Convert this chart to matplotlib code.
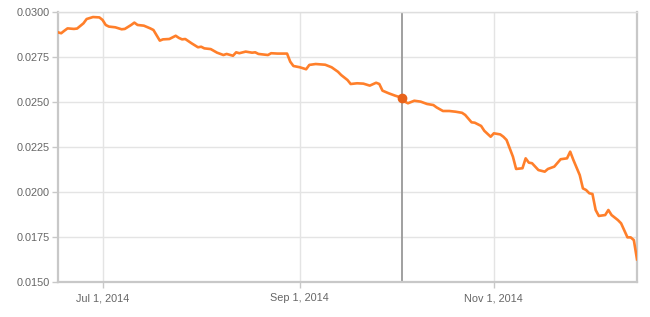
import matplotlib
matplotlib.use('Agg')
import matplotlib.pyplot as plt
import matplotlib.dates as mdates
import numpy as np

dates = ['2014-06-17', '2014-06-18', '2014-06-19', '2014-06-20', '2014-06-22', '2014-06-23',
         '2014-06-25', '2014-06-26', '2014-06-28', '2014-06-30', '2014-07-01', '2014-07-02',
         '2014-07-03', '2014-07-05', '2014-07-07', '2014-07-08', '2014-07-10', '2014-07-11',
         '2014-07-12', '2014-07-14', '2014-07-16', '2014-07-17', '2014-07-19', '2014-07-20',
         '2014-07-22', '2014-07-24', '2014-07-25', '2014-07-26', '2014-07-27', '2014-07-29',
         '2014-07-31', '2014-08-01', '2014-08-02', '2014-08-04', '2014-08-06', '2014-08-08',
         '2014-08-09', '2014-08-11', '2014-08-12', '2014-08-13', '2014-08-15', '2014-08-17',
         '2014-08-18', '2014-08-19', '2014-08-22', '2014-08-23', '2014-08-25', '2014-08-28',
         '2014-08-29', '2014-08-30', '2014-09-01', '2014-09-03', '2014-09-04', '2014-09-06',
         '2014-09-09', '2014-09-11', '2014-09-13', '2014-09-14', '2014-09-16', '2014-09-17',
         '2014-09-19', '2014-09-21', '2014-09-23', '2014-09-25', '2014-09-26', '2014-09-27',
         '2014-09-29', '2014-10-01', '2014-10-03', '2014-10-04', '2014-10-05', '2014-10-07',
         '2014-10-09', '2014-10-11', '2014-10-13', '2014-10-14', '2014-10-16', '2014-10-18',
         '2014-10-20', '2014-10-22', '2014-10-23', '2014-10-25', '2014-10-26', '2014-10-28',
         '2014-10-29', '2014-10-31', '2014-11-01', '2014-11-03', '2014-11-04', '2014-11-05',
         '2014-11-07', '2014-11-08', '2014-11-10', '2014-11-11', '2014-11-12', '2014-11-13',
         '2014-11-15', '2014-11-17', '2014-11-18', '2014-11-20', '2014-11-22', '2014-11-24',
         '2014-11-25', '2014-11-26', '2014-11-28', '2014-11-29', '2014-11-30', '2014-12-01',
         '2014-12-02', '2014-12-03', '2014-12-04', '2014-12-06', '2014-12-07', '2014-12-08',
         '2014-12-10', '2014-12-11', '2014-12-13', '2014-12-14', '2014-12-15', '2014-12-16']
values = [0.02887, 0.02882, 0.02896, 0.02909, 0.02906, 0.02908,
          0.02937, 0.02961, 0.02972, 0.02970, 0.02956, 0.02928,
          0.02919, 0.02915, 0.02904, 0.02906, 0.02928, 0.02941,
          0.02928, 0.02924, 0.02909, 0.02900, 0.02841, 0.02848,
          0.02850, 0.02868, 0.02856, 0.02848, 0.02850, 0.02826,
          0.02804, 0.02807, 0.02798, 0.02794, 0.02774, 0.02761,
          0.02767, 0.02757, 0.02776, 0.02771, 0.02780, 0.02774,
          0.02776, 0.02767, 0.02761, 0.02771, 0.02769, 0.02769,
          0.02724, 0.02700, 0.02693, 0.02682, 0.02706, 0.02711,
          0.02707, 0.02693, 0.02668, 0.02650, 0.02622, 0.02600,
          0.02604, 0.02602, 0.02591, 0.02607, 0.02600, 0.02563,
          0.02548, 0.02535, 0.02524, 0.02502, 0.02493, 0.02507,
          0.02502, 0.02489, 0.02483, 0.02470, 0.02450, 0.02450,
          0.02446, 0.02440, 0.02428, 0.02387, 0.02385, 0.02367,
          0.02340, 0.02307, 0.02326, 0.02320, 0.02307, 0.02289,
          0.02196, 0.02128, 0.02132, 0.02187, 0.02163, 0.02160,
          0.02122, 0.02113, 0.02128, 0.02141, 0.02182, 0.02187,
          0.02224, 0.02178, 0.02094, 0.02020, 0.02011, 0.01993,
          0.01989, 0.01900, 0.01867, 0.01872, 0.01900, 0.01872,
          0.01844, 0.01826, 0.01748, 0.01748, 0.01733, 0.01626]

x_ticks = ['2014-07-01', '2014-09-01', '2014-11-01']
x_labels = ['Jul 1, 2014', 'Sep 1, 2014', 'Nov 1, 2014']
y_ticks = [0.0150, 0.0175, 0.0200, 0.0225, 0.0250, 0.0275, 0.0300]
focus_date = '2014-10-03'

plt.rcParams['font.family'] = ['Liberation Sans', 'DejaVu Sans']

d = np.array(dates, dtype='datetime64[D]')
v = np.array(values)

fig = plt.figure(figsize=(6.5, 3.17), dpi=100)
ax = fig.add_axes([58 / 650, 1 - 282 / 317, 579 / 650, 270 / 317])

ax.plot(d, v, color='#ff7f2a', lw=1.9, solid_joinstyle='round', zorder=3)

# crosshair + highlighted point
fd = np.datetime64(focus_date)
ax.axvline(fd, color='#999999', lw=1.3, zorder=2)
ax.plot([fd], [v[list(d).index(fd)]], 'o', color='#e8631a', ms=6, zorder=4)

ax.set_xlim(np.datetime64('2014-06-17'), np.datetime64('2014-12-16'))
ax.set_ylim(0.0150, 0.0300)
ax.set_yticks(y_ticks)
ax.set_yticklabels([f'{t:.4f}' for t in y_ticks])
ax.set_xticks(np.array(x_ticks, dtype='datetime64[D]'))
ax.set_xticklabels(x_labels)

ax.grid(True, color='#e4e4e4', lw=1, zorder=0)
ax.set_axisbelow(True)
for s in ['left', 'bottom', 'right']:
    ax.spines[s].set_color('#c8c8c8')
    ax.spines[s].set_linewidth(1.6)
ax.spines['top'].set_color('#dedede')
ax.spines['top'].set_linewidth(1)

ax.tick_params(axis='both', colors='#c8c8c8', labelcolor='#666666', labelsize=7.8,
               length=4, width=1)
ax.tick_params(axis='y', pad=2)
ax.tick_params(axis='x', pad=4)

fig.savefig('out.png', dpi=100)
